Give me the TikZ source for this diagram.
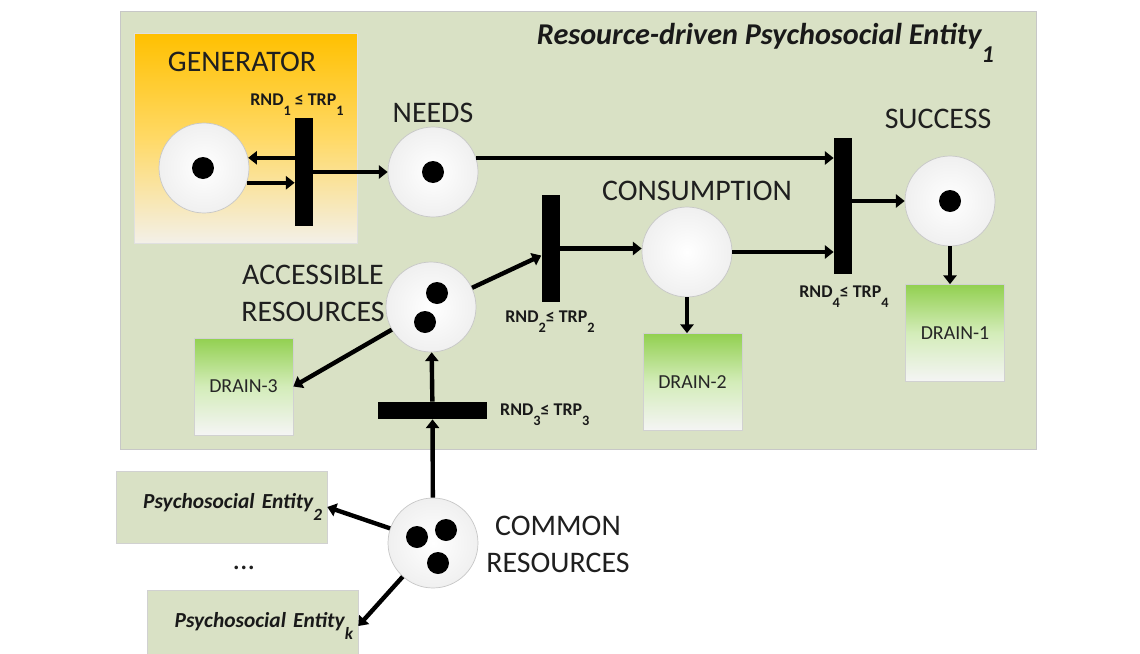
\documentclass[tikz,border=0pt]{standalone}
\usepackage{fontspec}
\setmainfont{Carlito}
\usetikzlibrary{arrows.meta}
\definecolor{panelgreen}{RGB}{217,225,197}
\definecolor{genorange}{RGB}{255,192,0}
\definecolor{genpale}{RGB}{243,240,232}
\definecolor{drgreen}{RGB}{146,208,80}
\newcommand{\lowsub}[1]{\raisebox{-0.6em}{\scalebox{0.8}{#1}}}

\begin{document}
\begin{tikzpicture}[x=0.02cm, y=-0.02cm,
                    place/.style={circle, draw=black!22, inner color=white, outer color=black!6, minimum size=1.8cm, inner sep=0pt},
                    token/.style={circle, fill=black, minimum size=0.44cm, inner sep=0pt},
                    bar/.style={rectangle, fill=black, inner sep=0pt},
                    drain/.style={rectangle, draw=black!18, top color=drgreen, bottom color=black!4, middle color=drgreen!40!white, minimum width=1.98cm, minimum height=1.94cm, text=black!85, font=\fontsize{11.3}{13}\selectfont},
                    entity/.style={rectangle, draw=black!18, fill=panelgreen, text width=4.02cm, align=right, inner sep=0.1cm, minimum height=1.44cm, text=black!90, font=\bfseries\itshape\fontsize{12.2}{14}\selectfont},
                    lbl/.style={align=center, text=black!88, font=\fontsize{17}{21}\selectfont},
                    rnd/.style={text=black!90, font=\bfseries\fontsize{10.2}{12}\selectfont},
                    arc/.style={-{Triangle[length=5pt,width=7.5pt]}, line width=2.5pt}]
                    \useasboundingbox (0, 0) rectangle (1140, 653);

                    \node (PANEL) [rectangle, draw=black!22, fill=panelgreen, minimum width=18.32cm, minimum height=8.76cm] at (578, 230) {};
                    \node (TITLE) [anchor=base east, text=black!90, font=\bfseries\itshape\fontsize{17.2}{20}\selectfont] at (1000, 44) {Resource-driven Psychosocial Entity\lowsub{1}};

                    \node (GENBOX) [rectangle, draw=black!12, top color=genorange, bottom color=genpale, middle color=genorange!60!white, minimum width=4.46cm, minimum height=4.2cm] at (245.5, 138) {};
                    \node (GENLBL) [lbl] at (242, 62) {GENERATOR};

                    \node (GEN) [place] at (204, 168) {};
                    \node (NEEDS) [place] at (433, 172) {};
                    \node (CONS) [place] at (687, 252) {};
                    \node (SUCC) [place] at (950, 201) {};
                    \node (ACC) [place] at (431, 307) {};
                    \node (COMM) [place] at (433, 543) {};

                    \node (GENTOK) [token] at (203, 168) {};
                    \node (NEEDSTOK) [token] at (433, 172) {};
                    \node (SUCCTOK) [token] at (950, 201) {};
                    \node (ACCTOKA) [token] at (437, 293) {};
                    \node (ACCTOKB) [token] at (425, 322) {};
                    \node (COMMTOKA) [token] at (417, 537) {};
                    \node (COMMTOKB) [token] at (446, 530) {};
                    \node (COMMTOKC) [token] at (438, 563) {};

                    \node (NEEDSLBL) [lbl] at (433, 112.5) {NEEDS};
                    \node (CONSLBL) [lbl] at (697, 191) {CONSUMPTION};
                    \node (SUCCLBL) [lbl] at (938, 119) {SUCCESS};
                    \node (ACCLBL) [lbl] at (313, 293.5) {ACCESSIBLE\\RESOURCES};
                    \node (COMMLBL) [lbl] at (558, 544) {COMMON\\RESOURCES};

                    \node (T1) [bar, minimum width=0.36cm, minimum height=2.16cm] at (304, 172) {};
                    \node (T2) [bar, minimum width=0.36cm, minimum height=2.14cm] at (550.5, 248.5) {};
                    \node (T3) [bar, minimum width=2.18cm, minimum height=0.34cm] at (432.5, 410.5) {};
                    \node (T4) [bar, minimum width=0.36cm, minimum height=2.72cm] at (843, 206) {};

                    \node (T1LBL) [rnd, anchor=base] at (297, 105) {RND\lowsub{1} ≤ TRP\lowsub{1}};
                    \node (T2LBL) [rnd, anchor=base] at (550, 322) {RND\lowsub{2}≤ TRP\lowsub{2}};
                    \node (T3LBL) [rnd, anchor=base west] at (494, 415) {RND\lowsub{3}≤ TRP\lowsub{3}};
                    \node (T4LBL) [rnd, anchor=base] at (844, 297) {RND\lowsub{4}≤ TRP\lowsub{4}};

                    \node (DR1) [drain] at (955, 333) {DRAIN-1};
                    \node (DR2) [drain] at (692.5, 382) {DRAIN-2};
                    \node (DR3) [drain] at (243.5, 386.5) {DRAIN-3};

                    \node (PE2) [entity] at (221.5, 507) {Psychosocial Entity\lowsub{2}};
                    \node (PEK) [entity] at (252.5, 626) {Psychosocial Entity\lowsub{k}};
                    \node (DOTS) [lbl] at (244, 568) {...};

                    \draw (GEN.13 -| T1.west) edge[arc] (GEN.13);
                    \draw (GEN.-19) edge[arc] (GEN.-19 -| T1.west);
                    \draw (T1) edge[arc] (NEEDS);
                    \draw (NEEDS.18) edge[arc] (NEEDS.18 -| T4.west);
                    \draw (T2) edge[arc] (T2 -| CONS.west);
                    \draw (CONS) edge[arc] (CONS -| T4.west);
                    \draw (T4.east |- SUCC) edge[arc] (SUCC);
                    \draw (ACC) edge[arc] ([yshift=-4pt]T2.west);
                    \draw (ACC) edge[arc] (DR3.east);
                    \draw (T3) edge[arc] (ACC);
                    \draw (COMM) edge[arc] (T3);
                    \draw (CONS) edge[arc] (CONS |- DR2.north);
                    \draw (SUCC) edge[arc] (SUCC |- DR1.north);
                    \draw (COMM) edge[arc] (PE2.east);
                    \draw (COMM) edge[arc] (PEK.east);
                \end{tikzpicture}
\end{document}
